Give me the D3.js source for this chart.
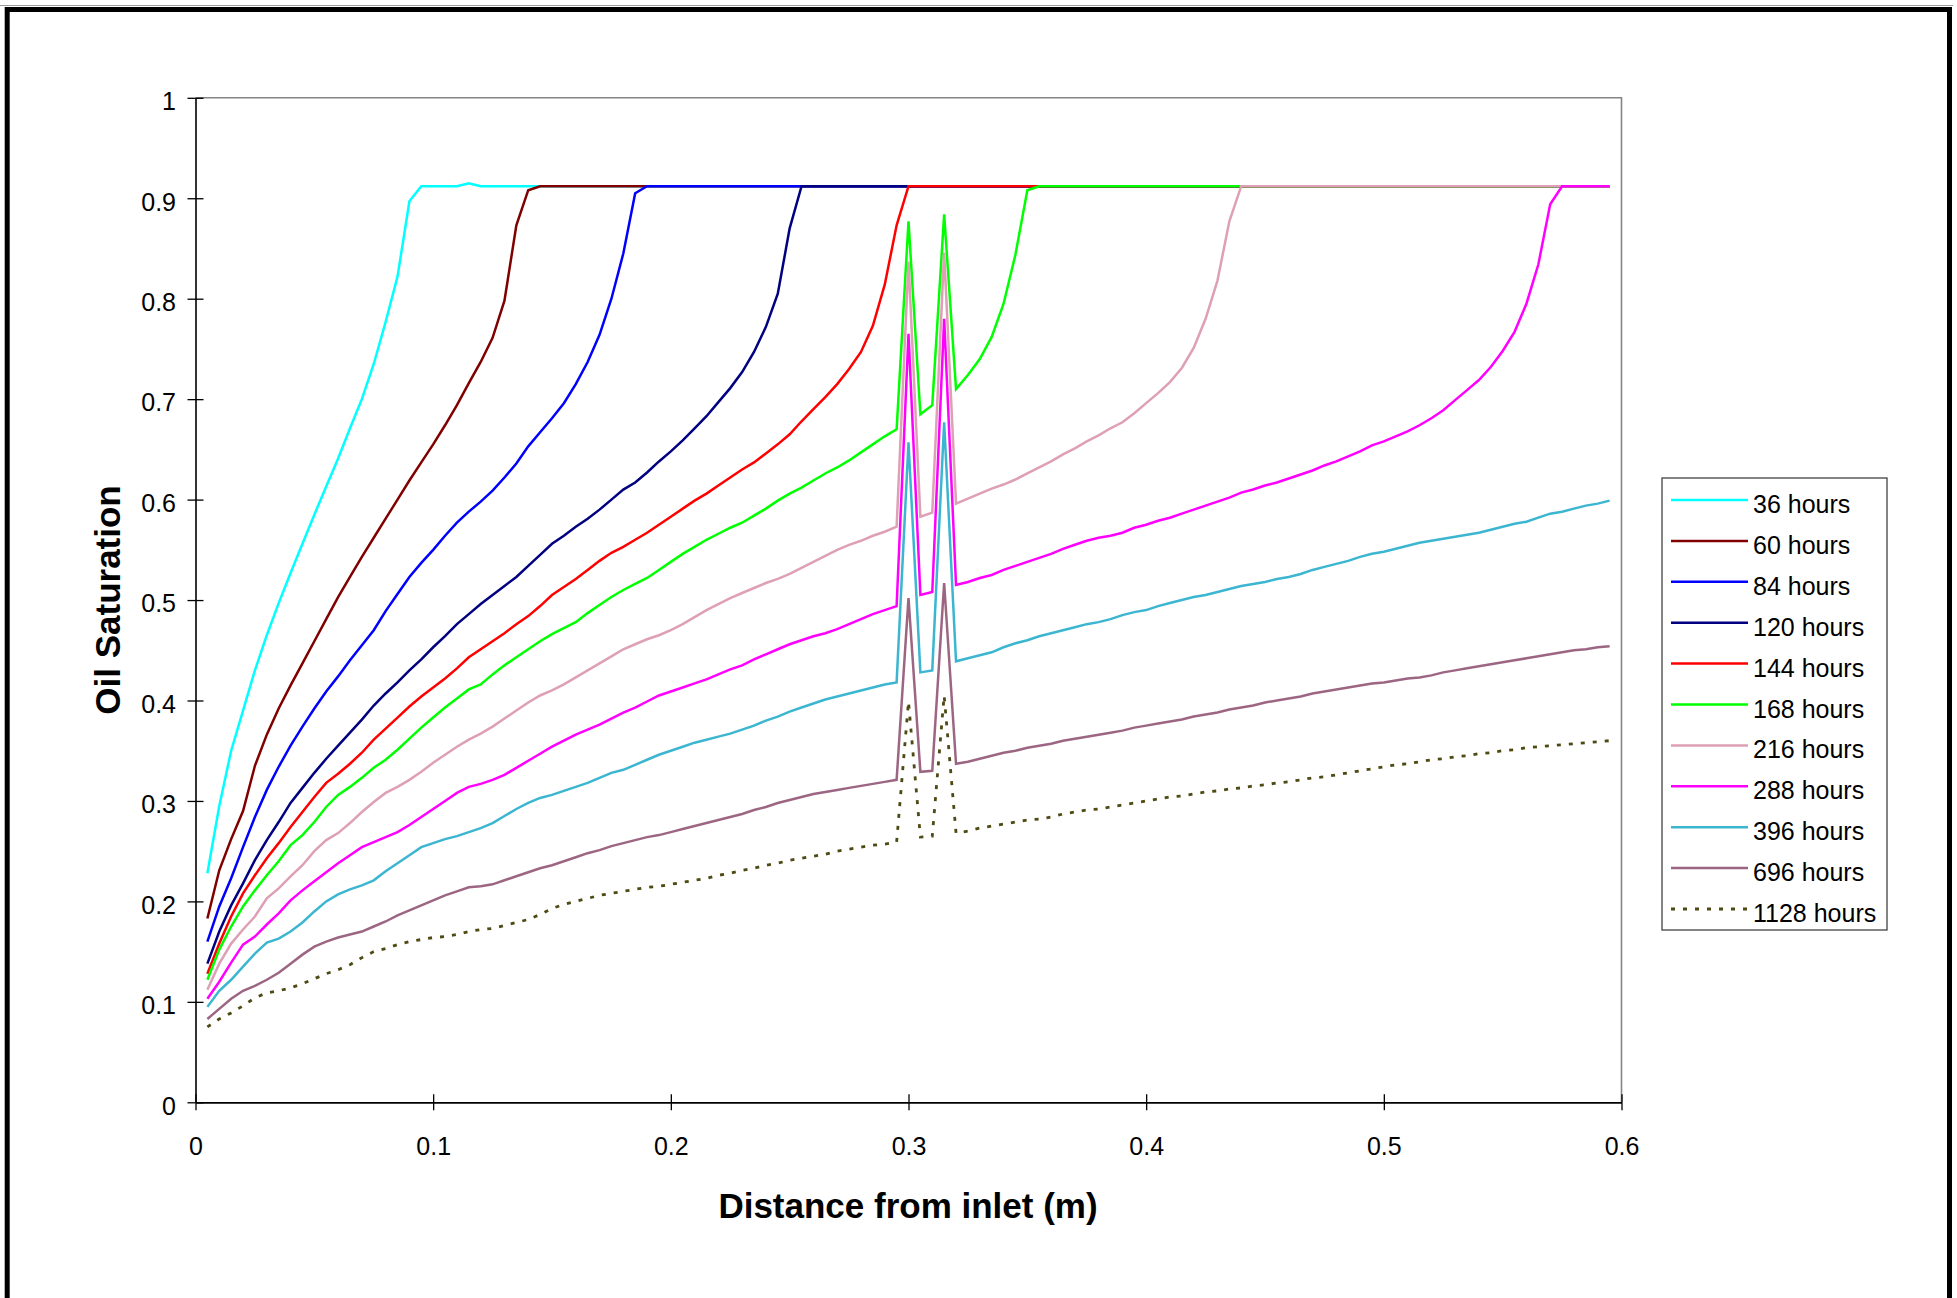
<!DOCTYPE html>
<html><head><meta charset="utf-8">
<script src="https://cdn.jsdelivr.net/npm/d3@7"></script>
<style>html,body{margin:0;padding:0;background:#fff;}svg{display:block;}text{font-family:"Liberation Sans",Arial,sans-serif;}</style>
</head><body><svg id="chart" width="1957" height="1298"></svg>
<script>
const distance = [0.005,0.01,0.015,0.02,0.025,0.03,0.035,0.04,0.045,0.05,
0.055,0.06,0.065,0.07,0.075,0.08,0.085,0.09,0.095,0.1,
0.105,0.11,0.115,0.12,0.125,0.13,0.135,0.14,0.145,0.15,
0.155,0.16,0.165,0.17,0.175,0.18,0.185,0.19,0.195,0.2,
0.205,0.21,0.215,0.22,0.225,0.23,0.235,0.24,0.245,0.25,
0.255,0.26,0.265,0.27,0.275,0.28,0.285,0.29,0.295,0.3,
0.305,0.31,0.315,0.32,0.325,0.33,0.335,0.34,0.345,0.35,
0.355,0.36,0.365,0.37,0.375,0.38,0.385,0.39,0.395,0.4,
0.405,0.41,0.415,0.42,0.425,0.43,0.435,0.44,0.445,0.45,
0.455,0.46,0.465,0.47,0.475,0.48,0.485,0.49,0.495,0.5,
0.505,0.51,0.515,0.52,0.525,0.53,0.535,0.54,0.545,0.55,
0.555,0.56,0.565,0.57,0.575,0.58,0.585,0.59,0.595];

const seriesNames = ["36 hours","60 hours","84 hours","120 hours","144 hours","168 hours","216 hours","288 hours","396 hours","696 hours","1128 hours"];
const seriesColors = ["#00ffff","#800000","#0000ff","#000080","#ff0000","#00ff00","#dea0b4","#ff00ff","#3cb6d0","#9c6682","#4d4a14"];

const s36 = [0.228,0.295,0.350,0.390,0.430,0.465,0.497,0.527,0.556,0.585,
0.613,0.641,0.671,0.700,0.735,0.777,0.822,0.897,0.912,0.912,
0.912,0.912,0.915,0.912,0.912,0.912,0.912,0.912,0.912,0.912,
0.912,0.912,0.912,0.912,0.912,0.912,0.912,0.912,0.912,0.912,
0.912,0.912,0.912,0.912,0.912,0.912,0.912,0.912,0.912,0.912,
0.912,0.912,0.912,0.912,0.912,0.912,0.912,0.912,0.912,0.912,
0.912,0.912,0.912,0.912,0.912,0.912,0.912,0.912,0.912,0.912,
0.912,0.912,0.912,0.912,0.912,0.912,0.912,0.912,0.912,0.912,
0.912,0.912,0.912,0.912,0.912,0.912,0.912,0.912,0.912,0.912,
0.912,0.912,0.912,0.912,0.912,0.912,0.912,0.912,0.912,0.912,
0.912,0.912,0.912,0.912,0.912,0.912,0.912,0.912,0.912,0.912,
0.912,0.912,0.912,0.912,0.912,0.912,0.912,0.912,0.912];

const s60 = [0.183,0.231,0.262,0.290,0.335,0.366,0.392,0.415,0.437,0.459,
0.481,0.503,0.523,0.543,0.562,0.581,0.600,0.619,0.637,0.655,
0.674,0.694,0.716,0.737,0.761,0.798,0.873,0.908,0.912,0.912,
0.912,0.912,0.912,0.912,0.912,0.912,0.912,0.912,0.912,0.912,
0.912,0.912,0.912,0.912,0.912,0.912,0.912,0.912,0.912,0.912,
0.912,0.912,0.912,0.912,0.912,0.912,0.912,0.912,0.912,0.912,
0.912,0.912,0.912,0.912,0.912,0.912,0.912,0.912,0.912,0.912,
0.912,0.912,0.912,0.912,0.912,0.912,0.912,0.912,0.912,0.912,
0.912,0.912,0.912,0.912,0.912,0.912,0.912,0.912,0.912,0.912,
0.912,0.912,0.912,0.912,0.912,0.912,0.912,0.912,0.912,0.912,
0.912,0.912,0.912,0.912,0.912,0.912,0.912,0.912,0.912,0.912,
0.912,0.912,0.912,0.912,0.912,0.912,0.912,0.912,0.912];

const s84 = [0.160,0.195,0.223,0.254,0.284,0.311,0.334,0.355,0.374,0.392,
0.409,0.424,0.440,0.455,0.470,0.489,0.506,0.523,0.537,0.550,
0.564,0.577,0.588,0.598,0.609,0.622,0.636,0.653,0.667,0.681,
0.696,0.715,0.737,0.764,0.800,0.845,0.905,0.912,0.912,0.912,
0.912,0.912,0.912,0.912,0.912,0.912,0.912,0.912,0.912,0.912,
0.912,0.912,0.912,0.912,0.912,0.912,0.912,0.912,0.912,0.912,
0.912,0.912,0.912,0.912,0.912,0.912,0.912,0.912,0.912,0.912,
0.912,0.912,0.912,0.912,0.912,0.912,0.912,0.912,0.912,0.912,
0.912,0.912,0.912,0.912,0.912,0.912,0.912,0.912,0.912,0.912,
0.912,0.912,0.912,0.912,0.912,0.912,0.912,0.912,0.912,0.912,
0.912,0.912,0.912,0.912,0.912,0.912,0.912,0.912,0.912,0.912,
0.912,0.912,0.912,0.912,0.912,0.912,0.912,0.912,0.912];

const s120 = [0.138,0.170,0.196,0.218,0.241,0.261,0.279,0.298,0.313,0.328,
0.342,0.355,0.368,0.381,0.395,0.407,0.418,0.430,0.441,0.453,
0.464,0.476,0.486,0.496,0.505,0.514,0.523,0.534,0.545,0.556,
0.564,0.573,0.581,0.590,0.600,0.610,0.617,0.627,0.638,0.648,
0.659,0.671,0.683,0.697,0.711,0.727,0.747,0.772,0.805,0.870,
0.912,0.912,0.912,0.912,0.912,0.912,0.912,0.912,0.912,0.912,
0.912,0.912,0.912,0.912,0.912,0.912,0.912,0.912,0.912,0.912,
0.912,0.912,0.912,0.912,0.912,0.912,0.912,0.912,0.912,0.912,
0.912,0.912,0.912,0.912,0.912,0.912,0.912,0.912,0.912,0.912,
0.912,0.912,0.912,0.912,0.912,0.912,0.912,0.912,0.912,0.912,
0.912,0.912,0.912,0.912,0.912,0.912,0.912,0.912,0.912,0.912,
0.912,0.912,0.912,0.912,0.912,0.912,0.912,0.912,0.912];

const s144 = [0.128,0.158,0.185,0.208,0.226,0.243,0.258,0.274,0.289,0.304,
0.318,0.327,0.337,0.348,0.361,0.372,0.383,0.394,0.404,0.413,
0.422,0.432,0.443,0.451,0.459,0.467,0.476,0.484,0.494,0.505,
0.513,0.521,0.530,0.539,0.547,0.553,0.560,0.567,0.575,0.583,
0.591,0.599,0.606,0.614,0.622,0.630,0.637,0.646,0.655,0.665,
0.678,0.690,0.702,0.715,0.730,0.747,0.773,0.814,0.873,0.912,
0.912,0.912,0.912,0.912,0.912,0.912,0.912,0.912,0.912,0.912,
0.912,0.912,0.912,0.912,0.912,0.912,0.912,0.912,0.912,0.912,
0.912,0.912,0.912,0.912,0.912,0.912,0.912,0.912,0.912,0.912,
0.912,0.912,0.912,0.912,0.912,0.912,0.912,0.912,0.912,0.912,
0.912,0.912,0.912,0.912,0.912,0.912,0.912,0.912,0.912,0.912,
0.912,0.912,0.912,0.912,0.912,0.912,0.912,0.912,0.912];

const s168 = [0.122,0.152,0.175,0.195,0.211,0.226,0.240,0.256,0.266,0.279,
0.294,0.306,0.314,0.323,0.333,0.341,0.351,0.362,0.373,0.383,
0.393,0.402,0.411,0.416,0.426,0.435,0.443,0.451,0.459,0.466,
0.472,0.478,0.487,0.495,0.503,0.510,0.516,0.522,0.530,0.538,
0.546,0.553,0.560,0.566,0.572,0.577,0.584,0.591,0.599,0.606,
0.612,0.619,0.626,0.632,0.639,0.647,0.655,0.663,0.670,0.877,
0.685,0.694,0.884,0.710,0.724,0.740,0.762,0.795,0.844,0.908,
0.912,0.912,0.912,0.912,0.912,0.912,0.912,0.912,0.912,0.912,
0.912,0.912,0.912,0.912,0.912,0.912,0.912,0.912,0.912,0.912,
0.912,0.912,0.912,0.912,0.912,0.912,0.912,0.912,0.912,0.912,
0.912,0.912,0.912,0.912,0.912,0.912,0.912,0.912,0.912,0.912,
0.912,0.912,0.912,0.912,0.912,0.912,0.912,0.912,0.912];

const s216 = [0.112,0.138,0.158,0.172,0.185,0.203,0.213,0.225,0.236,0.250,
0.261,0.268,0.278,0.289,0.299,0.308,0.314,0.321,0.329,0.338,
0.346,0.354,0.361,0.367,0.374,0.382,0.390,0.398,0.405,0.410,
0.416,0.423,0.430,0.437,0.444,0.451,0.456,0.461,0.465,0.470,
0.476,0.483,0.490,0.496,0.502,0.507,0.512,0.517,0.521,0.526,
0.532,0.538,0.544,0.550,0.555,0.559,0.564,0.568,0.573,0.837,
0.583,0.587,0.846,0.596,0.601,0.606,0.611,0.615,0.620,0.626,
0.632,0.638,0.645,0.651,0.658,0.664,0.671,0.677,0.686,0.696,
0.706,0.717,0.731,0.751,0.780,0.818,0.877,0.912,0.912,0.912,
0.912,0.912,0.912,0.912,0.912,0.912,0.912,0.912,0.912,0.912,
0.912,0.912,0.912,0.912,0.912,0.912,0.912,0.912,0.912,0.912,
0.912,0.912,0.912,0.912,0.912,0.912,0.912,0.912,0.912];

const s288 = [0.103,0.120,0.139,0.157,0.165,0.177,0.188,0.201,0.211,0.220,
0.229,0.238,0.246,0.254,0.259,0.264,0.269,0.276,0.284,0.292,
0.300,0.308,0.314,0.317,0.321,0.326,0.333,0.340,0.347,0.354,
0.360,0.366,0.371,0.376,0.382,0.388,0.393,0.399,0.405,0.409,
0.413,0.417,0.421,0.426,0.431,0.435,0.441,0.446,0.451,0.456,
0.460,0.464,0.467,0.471,0.476,0.481,0.486,0.490,0.494,0.765,
0.505,0.508,0.780,0.515,0.518,0.522,0.525,0.530,0.534,0.538,
0.542,0.546,0.551,0.555,0.559,0.562,0.564,0.567,0.572,0.575,
0.579,0.582,0.586,0.590,0.594,0.598,0.602,0.607,0.610,0.614,
0.617,0.621,0.625,0.629,0.634,0.638,0.643,0.648,0.654,0.658,
0.663,0.668,0.674,0.681,0.689,0.699,0.709,0.719,0.732,0.748,
0.767,0.795,0.834,0.894,0.912,0.912,0.912,0.912,0.912];

const s396 = [0.095,0.111,0.122,0.135,0.148,0.159,0.163,0.170,0.179,0.190,
0.200,0.207,0.212,0.216,0.221,0.230,0.238,0.246,0.254,0.258,
0.262,0.265,0.269,0.273,0.278,0.285,0.292,0.298,0.303,0.306,
0.310,0.314,0.318,0.323,0.328,0.331,0.336,0.341,0.346,0.350,
0.354,0.358,0.361,0.364,0.367,0.371,0.375,0.380,0.384,0.389,
0.393,0.397,0.401,0.404,0.407,0.410,0.413,0.416,0.418,0.657,
0.428,0.430,0.677,0.439,0.442,0.445,0.448,0.453,0.457,0.460,
0.464,0.467,0.470,0.473,0.476,0.478,0.481,0.485,0.488,0.490,
0.494,0.497,0.500,0.503,0.505,0.508,0.511,0.514,0.516,0.518,
0.521,0.523,0.526,0.530,0.533,0.536,0.539,0.543,0.546,0.548,
0.551,0.554,0.557,0.559,0.561,0.563,0.565,0.567,0.570,0.573,
0.576,0.578,0.582,0.586,0.588,0.591,0.594,0.596,0.599];

const s696 = [0.083,0.093,0.103,0.111,0.116,0.122,0.129,0.138,0.147,0.155,
0.160,0.164,0.167,0.170,0.175,0.180,0.186,0.191,0.196,0.201,
0.206,0.210,0.214,0.215,0.217,0.221,0.225,0.229,0.233,0.236,
0.240,0.244,0.248,0.251,0.255,0.258,0.261,0.264,0.266,0.269,
0.272,0.275,0.278,0.281,0.284,0.287,0.291,0.294,0.298,0.301,
0.304,0.307,0.309,0.311,0.313,0.315,0.317,0.319,0.321,0.502,
0.329,0.330,0.517,0.337,0.339,0.342,0.345,0.348,0.350,0.353,
0.355,0.357,0.360,0.362,0.364,0.366,0.368,0.370,0.373,0.375,
0.377,0.379,0.381,0.384,0.386,0.388,0.391,0.393,0.395,0.398,
0.400,0.402,0.404,0.407,0.409,0.411,0.413,0.415,0.417,0.418,
0.420,0.422,0.423,0.425,0.428,0.430,0.432,0.434,0.436,0.438,
0.440,0.442,0.444,0.446,0.448,0.450,0.451,0.453,0.454];

const s1128 = [0.075,0.083,0.089,0.096,0.104,0.109,0.111,0.114,0.118,0.123,
0.128,0.132,0.137,0.144,0.150,0.153,0.157,0.160,0.162,0.164,
0.165,0.167,0.170,0.172,0.173,0.176,0.179,0.182,0.187,0.193,
0.197,0.200,0.203,0.206,0.208,0.210,0.212,0.214,0.215,0.217,
0.219,0.221,0.223,0.226,0.228,0.231,0.233,0.236,0.238,0.241,
0.243,0.245,0.247,0.250,0.252,0.254,0.256,0.257,0.259,0.399,
0.264,0.265,0.405,0.268,0.270,0.273,0.275,0.277,0.279,0.281,
0.282,0.284,0.287,0.289,0.291,0.292,0.294,0.296,0.298,0.300,
0.302,0.304,0.305,0.307,0.309,0.310,0.312,0.313,0.315,0.316,
0.318,0.319,0.321,0.323,0.324,0.326,0.328,0.330,0.332,0.334,
0.336,0.337,0.339,0.341,0.342,0.344,0.345,0.347,0.348,0.350,
0.351,0.353,0.354,0.355,0.356,0.357,0.358,0.359,0.360];

const xTicks = [0,0.1,0.2,0.3,0.4,0.5,0.6];
const xTickLabels = ["0","0.1","0.2","0.3","0.4","0.5","0.6"];
const yTicks = [0,0.1,0.2,0.3,0.4,0.5,0.6,0.7,0.8,0.9,1];
const yTickLabels = ["0","0.1","0.2","0.3","0.4","0.5","0.6","0.7","0.8","0.9","1"];
const xTitle = "Distance from inlet (m)";
const yTitle = "Oil Saturation";

const series = [s36,s60,s84,s120,s144,s168,s216,s288,s396,s696,s1128];

const svg = d3.select("#chart");
const FONT = '"Liberation Sans", Arial, sans-serif';
const x = d3.scaleLinear().domain([0,0.6]).range([195.5,1621.5]);
const y = d3.scaleLinear().domain([0,1]).range([1102.3,97.8]);

// outer page frame
svg.append("line").attr("x1",0).attr("x2",1953).attr("y1",5.5).attr("y2",5.5)
  .attr("stroke","#9a9a9a").attr("stroke-width",1);
svg.append("rect").attr("x",7.2).attr("y",9.5).attr("width",1942.3).attr("height",1400)
  .attr("fill","none").attr("stroke","#000").attr("stroke-width",5);

// plot area frame (top and right)
svg.append("path")
  .attr("d",`M${x(0)},${y(1)}H${x(0.6)}V${y(0)}`)
  .attr("fill","none").attr("stroke","#858585").attr("stroke-width",1.6);

// series lines
const line = d3.line().x((d,i)=>x(distance[i])).y(d=>y(d));
const gLines = svg.append("g");
series.forEach((vals,k)=>{
  const p = gLines.append("path").datum(vals).attr("d",line)
    .attr("fill","none").attr("stroke",seriesColors[k])
    .attr("stroke-width",k===10?2.8:2.5).attr("stroke-linejoin","miter");
  if(k===10) p.attr("stroke-dasharray","4,8");
});

// Y axis
const yAxis = svg.append("g").attr("transform",`translate(${x(0)},0)`)
  .call(d3.axisLeft(y).tickValues(yTicks).tickFormat((d,i)=>yTickLabels[i]).tickSize(8).tickSizeOuter(0).tickPadding(11.5));
yAxis.call(g=>g.select(".domain").attr("stroke","#000").attr("stroke-width",1.6));
yAxis.selectAll(".tick line").attr("stroke","#000").attr("stroke-width",1.3);
yAxis.selectAll("text").attr("font-size",25).attr("font-family",FONT).attr("fill","#000").attr("dy","0.47em");
svg.append("g").attr("transform",`translate(${x(0)},0)`)
  .call(d3.axisRight(y).tickValues(yTicks).tickFormat("").tickSize(8).tickSizeOuter(0))
  .call(g=>g.select(".domain").remove())
  .selectAll(".tick line").attr("stroke","#000").attr("stroke-width",1.3);

// X axis
const xAxis = svg.append("g").attr("transform",`translate(0,${y(0)})`)
  .call(d3.axisBottom(x).tickValues(xTicks).tickFormat((d,i)=>xTickLabels[i]).tickSize(8).tickSizeOuter(0).tickPadding(27));
xAxis.call(g=>g.select(".domain").attr("stroke","#000").attr("stroke-width",1.8));
xAxis.selectAll(".tick line").attr("stroke","#000").attr("stroke-width",1.3);
xAxis.selectAll("text").attr("font-size",25).attr("font-family",FONT).attr("fill","#000");
svg.append("g").attr("transform",`translate(0,${y(0)})`)
  .call(d3.axisTop(x).tickValues(xTicks).tickFormat("").tickSize(8).tickSizeOuter(0))
  .call(g=>g.select(".domain").remove())
  .selectAll(".tick line").attr("stroke","#000").attr("stroke-width",1.3);

// axis titles
svg.append("text").attr("x",908).attr("y",1218).attr("text-anchor","middle")
  .attr("font-size",35).attr("font-weight","bold").attr("font-family",FONT).text(xTitle);
svg.append("text").attr("transform","translate(120,600) rotate(-90)").attr("text-anchor","middle")
  .attr("font-size",35).attr("font-weight","bold").attr("font-family",FONT).text(yTitle);

// legend
const lg = svg.append("g");
lg.append("rect").attr("x",1662).attr("y",478).attr("width",225).attr("height",452)
  .attr("fill","#fff").attr("stroke","#333").attr("stroke-width",1.2);
seriesNames.forEach((name,k)=>{
  const ly = 500 + k*40.9;
  const l = lg.append("line").attr("x1",1671).attr("x2",1748).attr("y1",ly).attr("y2",ly)
    .attr("stroke",seriesColors[k]).attr("stroke-width",k===10?2.8:2.5);
  if(k===10) l.attr("stroke-dasharray","4,8");
  lg.append("text").attr("x",1753).attr("y",ly+13).attr("font-size",25)
    .attr("font-family",FONT).attr("fill","#000").text(name);
});
</script></body></html>
